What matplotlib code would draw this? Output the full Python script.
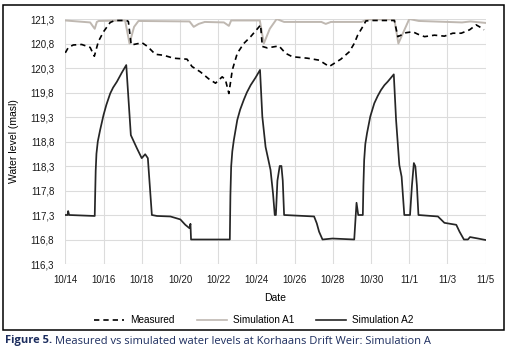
import matplotlib
matplotlib.use("Agg")
import matplotlib.pyplot as plt
from matplotlib.lines import Line2D
from matplotlib.patches import Rectangle

# ---- data (x = days since 10/14) ----
tick_days = [0, 2, 4, 6, 8, 10, 12, 14, 16, 18, 20, 22]
tick_labels = ["10/14", "10/16", "10/18", "10/20", "10/22", "10/24",
               "10/26", "10/28", "10/30", "11/1", "11/3", "11/5"]
y_ticks = [116.3, 116.8, 117.3, 117.8, 118.3, 118.8, 119.3, 119.8, 120.3, 120.8, 121.3]
y_tick_labels = ["116,3", "116,8", "117,3", "117,8", "118,3", "118,8",
                 "119,3", "119,8", "120,3", "120,8", "121,3"]

measured_days = [0, 0.16, 0.42, 0.86, 1.3, 1.52, 1.73, 2.0, 2.35, 2.6, 3.2, 3.3, 3.45,
                 3.83, 4.0, 4.3, 4.71, 5.14, 5.67, 6.37, 6.63, 7.07, 7.5, 7.86, 8.21,
                 8.38, 8.56, 8.74, 9.0, 9.34, 9.7, 10.14, 10.22, 10.31, 10.57, 11.18,
                 11.53, 11.88, 12.67, 13.28, 13.81, 14.42, 14.86, 15.12, 15.3, 15.56,
                 15.73, 16.0, 17.22, 17.4, 17.57, 17.83, 18.18, 18.45, 18.8, 19.32,
                 19.84, 20.28, 20.72, 21.16, 21.5, 21.68, 21.91]
measured_level = [120.61, 120.72, 120.77, 120.78, 120.72, 120.54, 120.84, 121.04, 121.23,
                  121.27, 121.27, 121.25, 120.77, 120.8, 120.82, 120.74, 120.58, 120.56,
                  120.5, 120.48, 120.33, 120.22, 120.08, 119.99, 120.12, 120.06, 119.78,
                  120.26, 120.6, 120.8, 120.94, 121.14, 121.18, 120.74, 120.71, 120.75,
                  120.6, 120.53, 120.5, 120.46, 120.33, 120.48, 120.63, 120.8, 120.97,
                  121.14, 121.26, 121.27, 121.27, 120.94, 120.97, 121.02, 121.04, 120.99,
                  120.94, 120.97, 120.95, 121.01, 121.01, 121.08, 121.18, 121.14, 121.08]

sim_a1_days = [0, 1.3, 1.54, 1.65, 1.75, 3.13, 3.36, 3.6, 3.83, 6.5, 6.72, 6.98, 7.3,
               8.3, 8.56, 8.68, 10.18, 10.39, 10.7, 11.06, 11.45, 13.4, 13.63, 13.9,
               15.5, 15.8, 17.22, 17.43, 17.6, 18.0, 18.5, 20.76, 21.2, 22.0]
sim_a1_level = [121.27, 121.23, 121.1, 121.24, 121.26, 121.27, 120.8, 121.14, 121.26,
                121.25, 121.14, 121.2, 121.24, 121.23, 121.16, 121.27, 121.27, 120.8,
                121.1, 121.3, 121.24, 121.24, 121.2, 121.24, 121.24, 121.29, 121.29,
                120.8, 120.95, 121.3, 121.26, 121.23, 121.25, 121.22]

sim_a2_days = [0, 0.12, 0.15, 0.2, 1.54, 1.565, 1.59, 1.63, 1.7, 1.82, 2.0, 2.15, 2.35,
               2.5, 2.7, 2.95, 3.19, 3.43,
               3.75, 4.0, 4.18, 4.32, 4.53, 4.8, 5.5, 6.02, 6.28, 6.5, 6.55, 6.58, 8.61,
               8.64, 8.68, 8.74, 8.82, 9.0, 9.15, 9.34, 9.5, 9.7, 9.95, 10.19, 10.31,
               10.48, 10.74, 10.87, 10.96,
               11.02, 11.1, 11.22, 11.31, 11.38, 11.45, 13.02, 13.16, 13.28, 13.46, 13.98,
               15.12, 15.24, 15.33, 15.57, 15.6, 15.64, 15.7, 15.79, 15.96, 16.17, 16.35,
               16.52, 16.7, 16.87, 17.19,
               17.31, 17.48, 17.6, 17.74, 18.04, 18.14, 18.24, 18.32, 18.4, 18.48, 19.5,
               19.84, 20.46, 20.63, 20.86, 21.07, 21.18, 21.6, 21.86, 22.0]
sim_a2_level = [117.3, 117.3, 117.38, 117.3, 117.28, 117.75, 118.2, 118.55, 118.8, 119.03,
                119.34, 119.55, 119.78, 119.9, 120.02, 120.2, 120.36, 118.93,
                118.66, 118.46, 118.54, 118.46, 117.3, 117.28, 117.27, 117.21, 117.1,
                117.03, 117.12, 116.8, 116.8, 117.7, 118.29, 118.6, 118.83, 119.24,
                119.45, 119.65, 119.8, 119.95, 120.1, 120.26, 119.31, 118.69, 118.22,
                117.74, 117.3, 117.3, 118.0, 118.3, 118.3, 118.0, 117.3, 117.27, 117.13,
                116.96, 116.8, 116.82, 116.8, 117.55, 117.3, 117.3, 117.9, 118.42, 118.75,
                118.97, 119.31, 119.58, 119.73, 119.85, 119.95, 120.02, 120.17, 119.24,
                118.32, 118.08, 117.3, 117.3, 117.9, 118.36, 118.29, 117.9, 117.3, 117.27,
                117.14, 117.1, 116.96, 116.8, 116.8, 116.85, 116.82, 116.8, 116.79]

plt.rcParams['font.family'] = ['Liberation Sans', 'DejaVu Sans']

W, H = 514, 351
fig = plt.figure(figsize=(W / 100, H / 100), dpi=100)
ax = fig.add_axes([65.3 / W, 1 - 264 / H, (485.7 - 65.3) / W, (264 - 19) / H])

dash = (0, (3.2, 2.4))
ax.plot(measured_days, measured_level, color="black", lw=1.2, linestyle=dash, zorder=3)
ax.plot(sim_a1_days, sim_a1_level, color="#bfb8b1", lw=1.4, zorder=2)
ax.plot(sim_a2_days, sim_a2_level, color="#262626", lw=1.25, zorder=4)

ax.set_xlim(0, 22)
ax.set_ylim(116.3, 121.3)
ax.set_xticks(tick_days)
ax.set_xticklabels(tick_labels)
ax.set_yticks(y_ticks)
ax.set_yticklabels(y_tick_labels)
ax.tick_params(length=0, labelsize=7, colors="#1a1a1a", pad=8)
ax.grid(True, color="#dcdcdc", lw=0.8)
for s in ax.spines.values():
    s.set_visible(False)
ax.set_axisbelow(True)

ax.set_xlabel("Date", fontsize=7.5, labelpad=6)
ax.set_ylabel("Water level (masl)", fontsize=7.5, labelpad=8)

handles = [Line2D([], [], color="black", lw=1.2, linestyle=dash),
           Line2D([], [], color="#bfb8b1", lw=1.2),
           Line2D([], [], color="#262626", lw=1.2)]
fig.legend(handles, ["Measured", "Simulation A1", "Simulation A2"],
           loc="center", bbox_to_anchor=(254 / W, 1 - 320 / H), ncol=3,
           frameon=False, fontsize=7.2, handlelength=3.0, columnspacing=2.2,
           handletextpad=0.6)

fig.patches.append(Rectangle((3 / W, 1 - 330 / H), (504 - 3) / W, (330 - 5) / H,
                             transform=fig.transFigure, fill=False,
                             edgecolor="black", lw=1.1))

cap_font = ["Open Sans", "DejaVu Sans"]
t1 = fig.text(5 / W, 1 - 341 / H, "Figure 5.", fontsize=8, fontweight="bold",
              color="#1c2d5e", family=cap_font, va="center")
fig.canvas.draw()
bb = t1.get_window_extent(renderer=fig.canvas.get_renderer())
fig.text((bb.x1 + 3) / W, 1 - 341 / H,
         "Measured vs simulated water levels at Korhaans Drift Weir: Simulation A",
         fontsize=8, color="#1c2d5e", family=cap_font, va="center")

fig.savefig("out.png", dpi=100)
